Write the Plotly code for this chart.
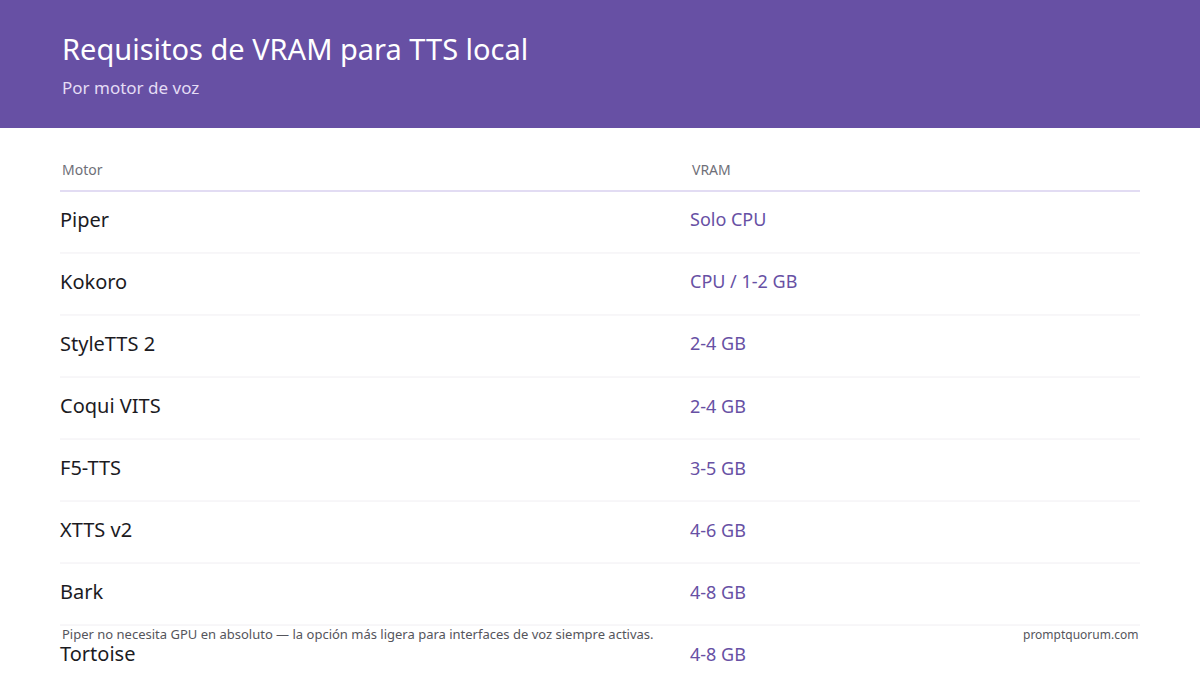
import plotly.graph_objects as go

motores = ['Piper', 'Kokoro', 'StyleTTS 2', 'Coqui VITS', 'F5-TTS', 'XTTS v2', 'Bark', 'Tortoise']
vram = ['Solo CPU', 'CPU / 1-2 GB', '2-4 GB', '2-4 GB', '3-5 GB', '4-6 GB', '4-8 GB', '4-8 GB']

titulo = 'Requisitos de VRAM para TTS local'
subtitulo = 'Por motor de voz'
nota = 'Piper no necesita GPU en absoluto — la opción más ligera para interfaces de voz siempre activas.'
fuente = 'promptquorum.com'

FONT = 'Noto Sans'
PURPLE = '#6750a4'
rows = list(range(len(motores)))

fig = go.Figure()
fig.add_trace(go.Scatter(x=[60] * len(motores), y=rows, text=motores, mode='text',
                         textposition='middle right',
                         textfont=dict(family=FONT, size=20, color='#1c1b1f'),
                         hoverinfo='skip'))
fig.add_trace(go.Scatter(x=[690] * len(vram), y=rows, text=vram, mode='text',
                         textposition='middle right',
                         textfont=dict(family=FONT, size=18, color=PURPLE),
                         hoverinfo='skip'))

shapes = [dict(type='rect', xref='x', yref='y', x0=0, x1=1200, y0=-3.7, y1=-1.516,
               fillcolor='#6750a4', line_width=0, layer='below'),
          dict(type='line', xref='x', yref='y', x0=60, x1=1140, y0=-0.5, y1=-0.5,
               line=dict(color='#e2dcf3', width=2))]
for i in rows[:-1]:
    shapes.append(dict(type='line', xref='x', yref='y', x0=60, x1=1140, y0=i + 0.5, y1=i + 0.5,
                       line=dict(color='#f0eef2', width=1)))

ann = [
    dict(x=60, y=-2.8, text=titulo, font=dict(family=FONT, size=29, color='white')),
    dict(x=60, y=-2.165, text=subtitulo, font=dict(family=FONT, size=17, color='#e4dcf5')),
    dict(x=60, y=-0.839, text='Motor', font=dict(family=FONT, size=14, color='#6f6f78')),
    dict(x=690, y=-0.839, text='VRAM', font=dict(family=FONT, size=14, color='#6f6f78')),
    dict(x=60, y=6.645, text=nota, font=dict(family=FONT, size=13, color='#55555c')),
    dict(x=1140, y=6.645, text=fuente, xanchor='right', font=dict(family=FONT, size=12, color='#55555c')),
]
for a in ann:
    a.setdefault('xanchor', 'left')
    a.update(xref='x', yref='y', showarrow=False, yanchor='middle')

fig.update_layout(width=1200, height=675, margin=dict(l=0, r=0, t=0, b=0),
                  paper_bgcolor='white', plot_bgcolor='white', showlegend=False,
                  shapes=shapes, annotations=ann,
                  xaxis=dict(range=[0, 1200], visible=False, fixedrange=True),
                  yaxis=dict(range=[7.306, -3.58], visible=False, fixedrange=True))

# drop the default page margin so the banner sits flush with the window
fig.write_html('out.html', config={'displayModeBar': False},
               post_script="document.body.style.margin='0';")
